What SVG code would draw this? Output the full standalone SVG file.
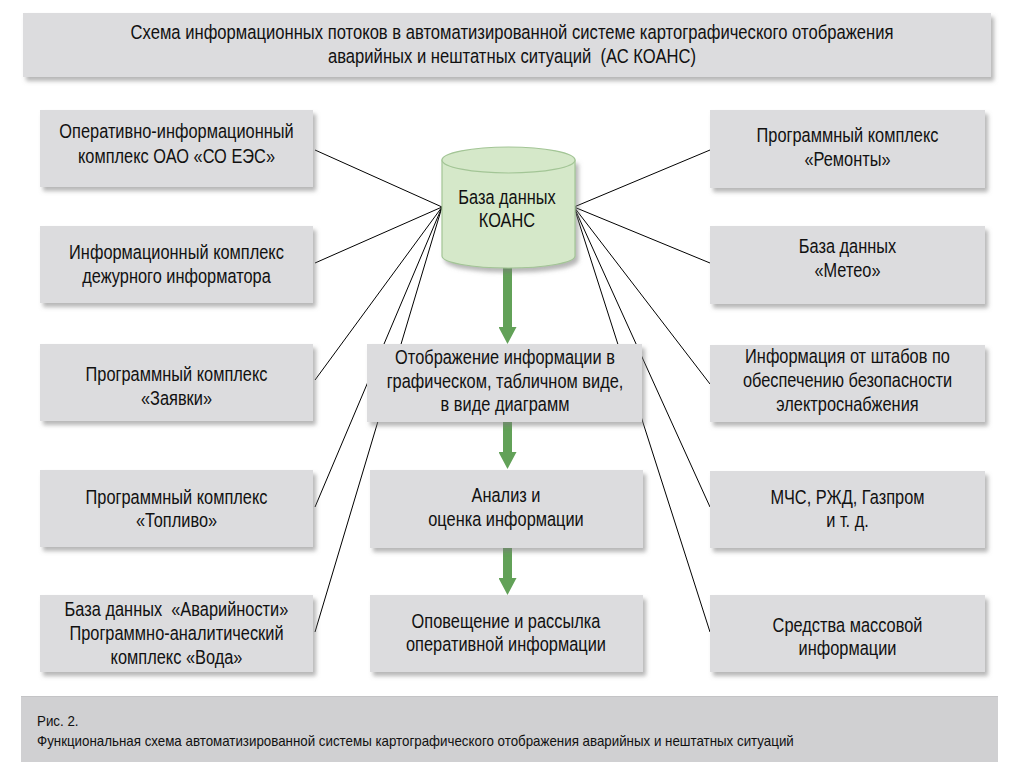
<svg xmlns="http://www.w3.org/2000/svg" width="1024" height="774" viewBox="0 0 1024 774">
<defs>
<filter id="sh" x="-5%" y="-10%" width="115%" height="130%">
<feDropShadow dx="3" dy="4" stdDeviation="2" flood-color="#7a7a7a" flood-opacity="0.55"/>
</filter>
<marker id="ga" markerUnits="userSpaceOnUse" markerWidth="18" markerHeight="18" refX="0" refY="9" orient="auto" viewBox="0 0 18 18">
<path d="M0,0 L17,9 L0,18 Z" fill="#62a158"/>
</marker>
<style>
.box{fill:#dcdcde;filter:url(#sh)}
.t{font-family:"Liberation Sans",Arial,sans-serif;font-size:19.5px;fill:#111;text-anchor:middle}
.c{font-family:"Liberation Sans",Arial,sans-serif;font-size:14px;fill:#111}
.ln{stroke:#000;stroke-width:1;fill:none}
.ar{stroke:#62a158;stroke-width:9;marker-end:url(#ga)}
</style>
</defs>
<rect width="1024" height="774" fill="#fff"/>

<g id="title">
<rect class="box" x="23" y="13" width="968" height="64"/>
<g transform="translate(512 0) scale(0.852 1)">
<text class="t" x="0" y="39">Схема информационных потоков в автоматизированной системе картографического отображения</text>
<text class="t" x="0" y="63" xml:space="preserve">аварийных и нештатных ситуаций  (АС КОАНС)</text></g>
</g>

<g id="connectors">
<line class="ln" x1="442" y1="207" x2="315" y2="150"/>
<line class="ln" x1="442" y1="207" x2="315" y2="263"/>
<line class="ln" x1="442" y1="207" x2="315" y2="380"/>
<line class="ln" x1="442" y1="207" x2="315" y2="507"/>
<line class="ln" x1="442" y1="207" x2="315" y2="632"/>
<line class="ln" x1="574" y1="207" x2="710" y2="150"/>
<line class="ln" x1="574" y1="207" x2="710" y2="263"/>
<line class="ln" x1="574" y1="207" x2="710" y2="384"/>
<line class="ln" x1="574" y1="207" x2="710" y2="507"/>
<line class="ln" x1="574" y1="207" x2="710" y2="632"/>
<line class="ar" x1="507.5" y1="266" x2="507.5" y2="327"/>
<line class="ar" x1="507.5" y1="422" x2="507.5" y2="452"/>
<line class="ar" x1="507.5" y1="548" x2="507.5" y2="578"/>
</g>

<g id="db">
<path d="M442,160 V256 A66.5,12 0 0 0 575,256 V160 Z" fill="#d5e8c9" stroke="#a3c596" stroke-width="1.2" filter="url(#sh)"/>
<ellipse cx="508.5" cy="160" rx="66.5" ry="13" fill="#d5e8c9" stroke="#a3c596" stroke-width="1.2"/>
<g transform="translate(507 0) scale(0.84 1)">
<text class="t" x="0" y="204">База данных</text>
<text class="t" x="0" y="227">КОАНС</text></g>
</g>

<g id="l1"><rect class="box" x="40" y="110" width="273" height="77"/>
<g transform="translate(176.5 0) scale(0.84 1)">
<text class="t" x="0" y="138">Оперативно-информационный</text>
<text class="t" x="0" y="163">комплекс ОАО «СО ЕЭС»</text></g></g>
<g id="l2"><rect class="box" x="40" y="226" width="273" height="77"/>
<g transform="translate(176.5 0) scale(0.84 1)">
<text class="t" x="0" y="259">Информационный комплекс</text>
<text class="t" x="0" y="283">дежурного информатора</text></g></g>
<g id="l3"><rect class="box" x="40" y="344" width="273" height="77"/>
<g transform="translate(176.5 0) scale(0.84 1)">
<text class="t" x="0" y="381">Программный комплекс</text>
<text class="t" x="0" y="405">«Заявки»</text></g></g>
<g id="l4"><rect class="box" x="40" y="470" width="273" height="77"/>
<g transform="translate(176.5 0) scale(0.84 1)">
<text class="t" x="0" y="504">Программный комплекс</text>
<text class="t" x="0" y="527">«Топливо»</text></g></g>
<g id="l5"><rect class="box" x="40" y="595" width="273" height="77"/>
<g transform="translate(176.5 0) scale(0.84 1)">
<text class="t" x="0" y="616" xml:space="preserve">База данных  «Аварийности»</text>
<text class="t" x="0" y="640">Программно-аналитический</text>
<text class="t" x="0" y="664">комплекс «Вода»</text></g></g>

<g id="r1"><rect class="box" x="710" y="110" width="275" height="78"/>
<g transform="translate(847.5 0) scale(0.84 1)">
<text class="t" x="0" y="142">Программный комплекс</text>
<text class="t" x="0" y="166">«Ремонты»</text></g></g>
<g id="r2"><rect class="box" x="710" y="226" width="275" height="78"/>
<g transform="translate(847.5 0) scale(0.84 1)">
<text class="t" x="0" y="253">База данных</text>
<text class="t" x="0" y="277">«Метео»</text></g></g>
<g id="r3"><rect class="box" x="710" y="345" width="275" height="77"/>
<g transform="translate(847.5 0) scale(0.84 1)">
<text class="t" x="0" y="363">Информация от штабов по</text>
<text class="t" x="0" y="387">обеспечению безопасности</text>
<text class="t" x="0" y="411">электроснабжения</text></g></g>
<g id="r4"><rect class="box" x="710" y="471" width="275" height="77"/>
<g transform="translate(847.5 0) scale(0.84 1)">
<text class="t" x="0" y="504">МЧС, РЖД, Газпром</text>
<text class="t" x="0" y="527">и т. д.</text></g></g>
<g id="r5"><rect class="box" x="710" y="595" width="275" height="77"/>
<g transform="translate(847.5 0) scale(0.84 1)">
<text class="t" x="0" y="632">Средства массовой</text>
<text class="t" x="0" y="655">информации</text></g></g>

<g id="c1"><rect class="box" x="367" y="344" width="275" height="78"/>
<g transform="translate(505 0) scale(0.84 1)">
<text class="t" x="0" y="364">Отображение информации в</text>
<text class="t" x="0" y="388">графическом, табличном виде,</text>
<text class="t" x="0" y="411">в виде диаграмм</text></g></g>
<g id="c2"><rect class="box" x="370" y="470" width="273" height="78"/>
<g transform="translate(506 0) scale(0.84 1)">
<text class="t" x="0" y="502">Анализ и</text>
<text class="t" x="0" y="526">оценка информации</text></g></g>
<g id="c3"><rect class="box" x="370" y="595" width="273" height="77"/>
<g transform="translate(506 0) scale(0.84 1)">
<text class="t" x="0" y="628">Оповещение и рассылка</text>
<text class="t" x="0" y="651">оперативной информации</text></g></g>

<g id="caption">
<rect x="21" y="696" width="977" height="66" fill="#d0d0d2"/>
<line x1="21" y1="696.5" x2="998" y2="696.5" stroke="#c4c4c6"/>
<g transform="translate(37 0) scale(0.953 1)">
<text class="c" x="0" y="726">Рис. 2.</text>
<text class="c" x="0" y="746">Функциональная схема автоматизированной системы картографического отображения аварийных и нештатных ситуаций</text></g>
</g>
</svg>
